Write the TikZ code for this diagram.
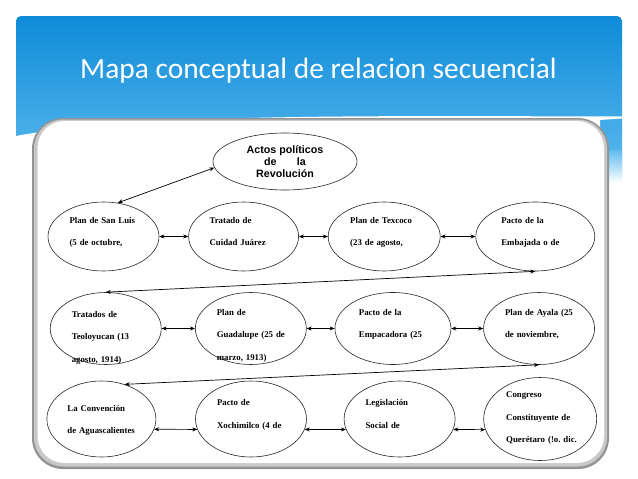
\documentclass[tikz,border=0pt]{standalone}
\usepackage{fontspec}
\usepackage{tikz}
\usetikzlibrary{shapes.geometric, arrows.meta, positioning}
\setmainfont{Liberation Serif}[BoldFont={Liberation Serif Bold}]
\newfontfamily\titlefont{Carlito}
\newfontfamily\arialfont{Liberation Sans}[BoldFont={Liberation Sans Bold}]
\definecolor{headtop}{RGB}{14, 139, 216}
\definecolor{headbottom}{RGB}{96, 188, 240}
\definecolor{cardedge}{RGB}{120, 120, 120}
\tikzset{
    tema/.style = {ellipse, draw=black!85, fill=white, line width=0.6pt, align=center, inner sep=0pt, font=\arialfont\bfseries\fontsize{10.7}{12}\selectfont},
    evento/.style = {ellipse, draw=black!85, fill=white, line width=0.6pt, text width=68pt, align=left, inner sep=0pt, text height=7pt, text depth=34pt, font=\bfseries\fontsize{8.8}{22.5}\selectfont, execute at begin node={\hyphenpenalty=10000}},
    flecha/.style = {line width=0.7pt, {Stealth[length=5pt, width=4pt]}-{Stealth[length=5pt, width=4pt]}}
}

\begin{document}
\begin{tikzpicture}[x=1pt, y=-1pt]
\useasboundingbox (0,0) rectangle (638,479);
% fondo y cabecera
\fill[white] (0,0) rectangle (638,479);
\shade[top color=headtop, bottom color=headbottom, rounded corners=5pt] (16,16) rectangle (622,182);
\fill[white] (16,136) .. controls (140,113) and (380,116) .. (622,116.5) -- (622,118.5) -- (600,120) -- (600,190) -- (16,190) -- cycle;
\shade[top color=headbottom, bottom color=white] (600,150) rectangle (622,183);
\node (titulo) [anchor=base west, inner sep=0pt, text=white, font=\titlefont\fontsize{29.4}{35}\selectfont] at (80,78) {Mapa conceptual de relacion secuencial};

% tarjeta
\fill[cardedge!80, rounded corners=31pt] (32,118) rectangle (609,469);
\fill[cardedge!40, rounded corners=29pt] (34,119.5) rectangle (607,466.5);
\fill[white, rounded corners=27pt] (37.5,121) rectangle (604,463);

% nodos
\node (actos) [tema, minimum width=144pt, minimum height=57pt] at (285,161.5) {Actos políticos\\de\hspace{1.9em}la\\Revolución};

\node (sanluis) [evento, minimum width=111pt, minimum height=69pt] at (103.5,236.5) {Plan de San Luis\\(5 de octubre,};
\node (tratado) [evento, minimum width=110pt, minimum height=69pt, right=29pt of sanluis] {Tratado de\\Cuidad Juárez};
\node (texcoco) [evento, minimum width=112pt, minimum height=69pt, right=29pt of tratado] {Plan de Texcoco\\(23 de agosto,};
\node (embajada) [evento, minimum width=119pt, minimum height=69pt, right=35pt of texcoco] {Pacto de la\\Embajada o de};

\node (teoloyucan) [evento, minimum width=111pt, minimum height=72pt, text depth=30pt] at (105.75,328.5) {Tratados de\\Teoloyucan~(13\\agosto, 1914)};
\node (guadalupe) [evento, minimum width=111pt, minimum height=72pt, right=33.5pt of teoloyucan] {Plan de\\Guadalupe~(25~de\\marzo, 1913)};
\node (empacadora) [evento, minimum width=116pt, minimum height=72pt, right=28pt of guadalupe] {Pacto de la\\Empacadora~(25};
\node (ayala) [evento, minimum width=111pt, minimum height=72pt, right=32pt of empacadora] {Plan~de~Ayala~(25\\de noviembre,};

\node (convencion) [evento, minimum width=109pt, minimum height=76pt, text depth=23pt] at (101.4,419) {La Convención\\de~Aguascalientes};
\node (xochimilco) [evento, minimum width=111pt, minimum height=76pt, right=39pt of convencion] {Pacto de\\Xochimilco~(4~de};
\node (legislacion) [evento, minimum width=111pt, minimum height=76pt, right=37pt of xochimilco] {Legislación\\Social de};
\node (congreso) [evento, minimum width=113pt, minimum height=83pt, text depth=50pt, right=28pt of legislacion] {Congreso\\Constituyente~de\\Querétaro~(!o.~dic.};

% conectores
\draw [flecha] (actos.185) -- (sanluis.67);
\draw [flecha] (sanluis) -- (tratado);
\draw [flecha] (tratado) -- (texcoco);
\draw [flecha] (texcoco) -- (embajada);
\draw [flecha] (embajada.south) -- (teoloyucan.north);
\draw [flecha] (teoloyucan) -- (guadalupe);
\draw [flecha] (guadalupe) -- (empacadora);
\draw [flecha] (empacadora) -- (ayala);
\draw [flecha] (ayala.south) -- (convencion.56);
\draw [flecha] (convencion.-11) -- (xochimilco.191);
\draw [flecha] (xochimilco.-11) -- (legislacion.191);
\draw [flecha] (legislacion.-11) -- (congreso.191);
\end{tikzpicture}
\end{document}
